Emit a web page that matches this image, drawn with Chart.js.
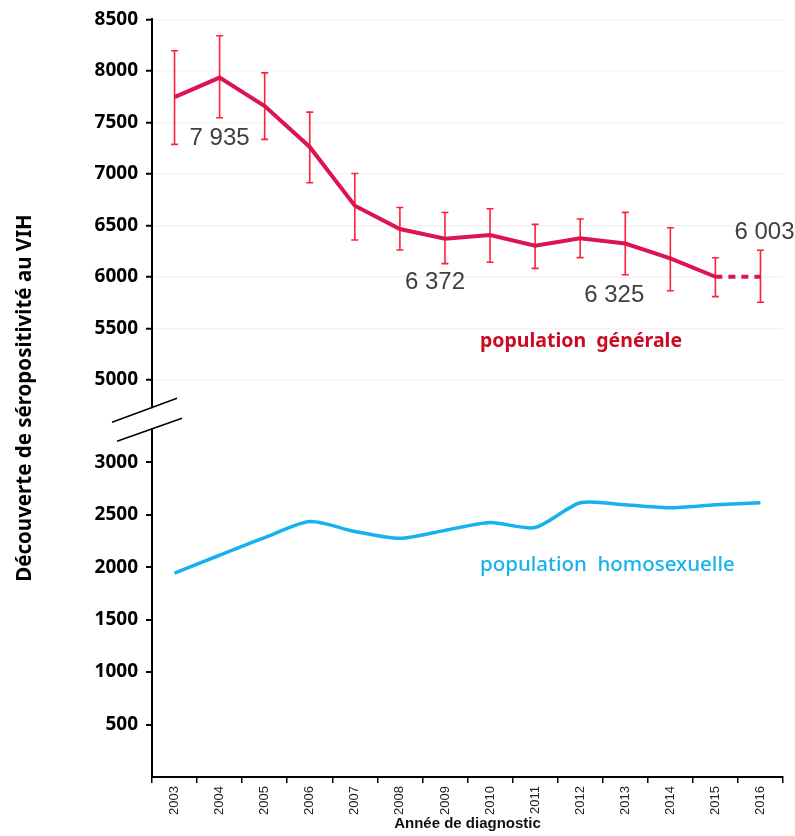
<!DOCTYPE html>
<html lang="fr">
<head>
<meta charset="utf-8">
<title>Découverte de séropositivité au VIH</title>
<script src="https://cdn.jsdelivr.net/npm/chart.js@4"></script>
<style>
    html, body { margin: 0; padding: 0; background: #fff; }
    #chartBox { width: 795px; height: 836px; position: relative; }
</style>
</head>
<body>
<div id="chartBox"><canvas id="vihChart"></canvas></div>
<script>
// Données
const years = ['2003', '2004', '2005', '2006', '2007', '2008', '2009', '2010', '2011', '2012', '2013', '2014', '2015', '2016'];
const generalCases = [7746, 7935, 7659, 7262, 6692, 6465, 6372, 6407, 6304, 6375, 6325, 6181, 6002, 6003];
const generalLow = [7287, 7545, 7336, 6914, 6359, 6262, 6130, 6143, 6083, 6188, 6021, 5866, 5809, 5754];
const generalHigh = [8196, 8341, 7981, 7600, 7004, 6675, 6626, 6662, 6511, 6562, 6627, 6478, 6186, 6260];
const msmCases = [1943, 2113, 2280, 2434, 2340, 2274, 2350, 2425, 2377, 2613, 2594, 2566, 2594, 2613];
const labelledYears = ['2004', '2009', '2013', '2016'];
const topTicks = [5000, 5500, 6000, 6500, 7000, 7500, 8000, 8500];
const bottomTicks = [500, 1000, 1500, 2000, 2500, 3000];

const RED_LINE = '#dc1450';
const RED_BAR = '#ff2038';
const BLUE_LINE = '#17b2ec';

function frNumber(v) {
    return String(v).replace(/\B(?=(\d{3})+(?!\d))/g, ' ');
}

document.addEventListener('DOMContentLoaded', function() {
    // barres d'erreur, étiquettes, coupure d'axe
    const decorations = {
        id: 'decorations',
        beforeDatasetsDraw(chart) {
            const ctx = chart.ctx;
            const x = chart.scales.x;
            const y = chart.scales.yTop;
            ctx.save();
            ctx.strokeStyle = RED_BAR;
            ctx.lineWidth = 1.6;
            years.forEach((yr, i) => {
                const px = x.getPixelForValue(i);
                const top = y.getPixelForValue(generalHigh[i]);
                const bot = y.getPixelForValue(generalLow[i]);
                ctx.beginPath();
                ctx.moveTo(px, top); ctx.lineTo(px, bot);
                ctx.moveTo(px - 3.5, top); ctx.lineTo(px + 3.5, top);
                ctx.moveTo(px - 3.5, bot); ctx.lineTo(px + 3.5, bot);
                ctx.stroke();
            });
            ctx.restore();
        },
        afterDraw(chart) {
            const ctx = chart.ctx;
            const area = chart.chartArea;
            const x = chart.scales.x;
            const yTop = chart.scales.yTop;
            const yBottom = chart.scales.yBottom;
            ctx.save();

            // valeurs annotées
            const noteOffsets = { '2004': [0, 61], '2009': [-10, 44], '2013': [-11, 52], '2016': [4, -44] };
            ctx.fillStyle = '#3f3f3f';
            ctx.font = '24px "Liberation Sans", Arial, sans-serif';
            ctx.textAlign = 'center';
            ctx.textBaseline = 'middle';
            labelledYears.forEach(yr => {
                const i = years.indexOf(yr);
                const off = noteOffsets[yr];
                ctx.fillText(frNumber(generalCases[i]),
                    x.getPixelForValue(i) + off[0],
                    yTop.getPixelForValue(generalCases[i]) + off[1]);
            });

            // noms des séries
            ctx.textAlign = 'left';
            ctx.fillStyle = '#cc0a22';
            ctx.font = 'bold 19.5px "Noto Sans", sans-serif';
            ctx.fillText('population  générale', area.left + 328, 341);
            ctx.fillStyle = BLUE_LINE;
            ctx.font = '500 20.5px "Noto Sans", sans-serif';
            ctx.fillText('population  homosexuelle', area.left + 328, 565);

            // coupure de l'axe vertical
            const ax = area.left;
            const b = yBottom.top;
            ctx.fillStyle = '#fff';
            ctx.fillRect(ax - 3, b - 12, 6, 20);
            ctx.strokeStyle = '#000';
            ctx.lineWidth = 1.5;
            ctx.beginPath();
            ctx.moveTo(ax - 40, b + 2); ctx.lineTo(ax + 25, b - 22);
            ctx.moveTo(ax - 35, b + 21); ctx.lineTo(ax + 30, b - 2);
            ctx.stroke();

            // titre de l'axe Y
            ctx.translate(25, 398);
            ctx.rotate(-Math.PI / 2);
            ctx.textAlign = 'center';
            ctx.fillStyle = '#000';
            ctx.font = 'bold 20.5px "Noto Sans", sans-serif';
            ctx.fillText('Découverte de séropositivité au VIH', 0, 0);
            ctx.restore();
        }
    };

    const tickFont = { family: '"Noto Sans", sans-serif', size: 19, weight: 'bold' };

    const vihCtx = document.getElementById('vihChart').getContext('2d');
    new Chart(vihCtx, {
        type: 'line',
        data: {
            labels: years,
            datasets: [
                {
                    label: 'population générale',
                    data: generalCases,
                    yAxisID: 'yTop',
                    borderColor: RED_LINE,
                    borderWidth: 4,
                    pointRadius: 0,
                    tension: 0,
                    segment: {
                        borderDash: c => c.p1DataIndex === years.length - 1 ? [7, 6] : undefined
                    }
                },
                {
                    label: 'population homosexuelle',
                    data: msmCases,
                    yAxisID: 'yBottom',
                    borderColor: BLUE_LINE,
                    borderWidth: 3.5,
                    pointRadius: 0,
                    tension: 0.25
                }
            ]
        },
        options: {
            responsive: true,
            maintainAspectRatio: false,
            animation: false,
            layout: {
                padding: { top: 19, right: 12, bottom: 0, left: 0 }
            },
            plugins: {
                legend: { display: false },
                tooltip: { enabled: false }
            },
            scales: {
                x: {
                    type: 'category',
                    offset: true,
                    grid: { offset: true, drawOnChartArea: false, color: '#000', tickLength: 6, lineWidth: 1.5 },
                    border: { color: '#000', width: 2 },
                    ticks: {
                        minRotation: 90,
                        maxRotation: 90,
                        color: '#222',
                        font: { family: '"Liberation Sans", Arial, sans-serif', size: 13 }
                    },
                    title: {
                        display: true,
                        text: 'Année de diagnostic',
                        color: '#111',
                        padding: { top: 2, bottom: 3 },
                        font: { family: '"Liberation Sans", Arial, sans-serif', size: 15, weight: 'bold' }
                    },
                    afterFit: s => { s.height = 59; }
                },
                yBottom: {
                    type: 'linear',
                    position: 'left',
                    stack: 'vih',
                    stackWeight: 357,
                    min: 0,
                    max: 3400,
                    grid: { drawOnChartArea: false, color: '#000', tickLength: 6, lineWidth: 2 },
                    border: { color: '#000', width: 2 },
                    ticks: { color: '#000', font: tickFont, padding: 8, callback: v => String(v) },
                    afterBuildTicks: s => { s.ticks = bottomTicks.map(v => ({ value: v })); },
                    afterFit: s => { s.width = 152; }
                },
                yTop: {
                    type: 'linear',
                    position: 'left',
                    stack: 'vih',
                    stackWeight: 401,
                    min: 4610,
                    max: 8500,
                    grid: { color: '#f3f3f3', tickColor: '#000', tickLength: 6, lineWidth: 1.5, tickWidth: 2 },
                    border: { color: '#000', width: 2 },
                    ticks: { color: '#000', font: tickFont, padding: 8, callback: v => String(v) },
                    afterBuildTicks: s => { s.ticks = topTicks.map(v => ({ value: v })); },
                    afterFit: s => { s.width = 152; }
                }
            }
        },
        plugins: [decorations]
    });
});
</script>
</body>
</html>
